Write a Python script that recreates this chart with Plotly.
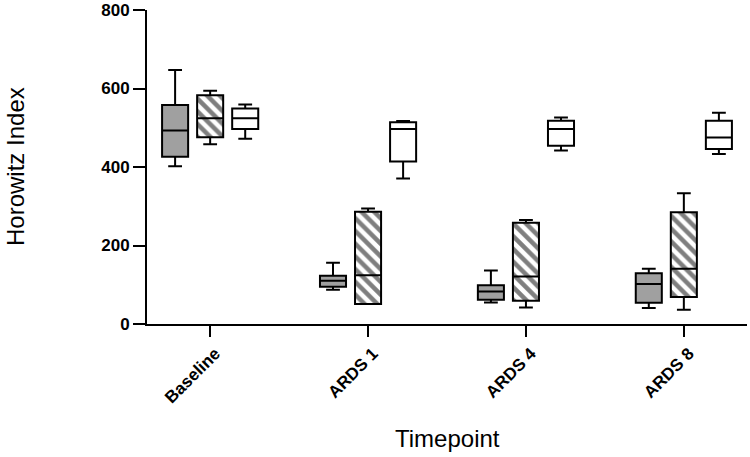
import plotly.graph_objects as go

categories = ["Baseline", "ARDS 1", "ARDS 4", "ARDS 8"]

# Group 1 (grey filled)
g1_low = [402, 87, 55, 41]
g1_q1 = [426, 95, 62, 54]
g1_med = [493, 110, 83, 102]
g1_q3 = [558, 123, 99, 129]
g1_high = [647, 156, 136, 141]

# Group 2 (hatched)
g2_low = [458, 51, 42, 36]
g2_q1 = [476, 51, 59, 69]
g2_med = [524, 124, 121, 141]
g2_q3 = [583, 286, 258, 285]
g2_high = [594, 294, 265, 333]

# Group 3 (white)
g3_low = [472, 371, 442, 433]
g3_q1 = [497, 414, 454, 446]
g3_med = [524, 497, 497, 475]
g3_q3 = [549, 514, 518, 518]
g3_high = [559, 517, 526, 538]

BOX_W = 0.165
OFFSET = 0.222
pos = list(range(len(categories)))

fig = go.Figure()

# hatched fill underneath group 2 boxes
fig.add_trace(go.Bar(
    x=[p for p in pos], base=g2_q1, y=[h - l for h, l in zip(g2_q3, g2_q1)],
    width=BOX_W, marker=dict(color="white", line=dict(width=0),
                             pattern=dict(shape="\\", fgcolor="black", bgcolor="white",
                                          size=9, solidity=0.5)),
    showlegend=False, hoverinfo="skip"))

def add_box(offset, low, q1, med, q3, high, fill):
    fig.add_trace(go.Box(
        x=[p + offset for p in pos], lowerfence=low, q1=q1, median=med, q3=q3,
        upperfence=high, width=BOX_W, whiskerwidth=0.53, fillcolor=fill,
        line=dict(color="black", width=2), showlegend=False, boxpoints=False))

add_box(-OFFSET, g1_low, g1_q1, g1_med, g1_q3, g1_high, "#a0a0a0")
add_box(0, g2_low, g2_q1, g2_med, g2_q3, g2_high, "rgba(0,0,0,0)")
add_box(OFFSET, g3_low, g3_q1, g3_med, g3_q3, g3_high, "white")

tickfont = dict(family="Liberation Sans Narrow, Liberation Sans, Arial", size=17, color="black", weight="bold")

fig.update_layout(
    width=750, height=457,
    margin=dict(l=147, r=3, t=10, b=133, autoexpand=False),
    paper_bgcolor="white", plot_bgcolor="white",
    showlegend=False, boxmode="overlay", barmode="overlay",
    xaxis=dict(range=[-0.4, 3.4], tickvals=pos, ticktext=categories, tickangle=-45,
               automargin=False, ticklabelshift=5,
               showline=True, linecolor="black", linewidth=2, ticks="outside",
               ticklen=11, tickwidth=2, tickcolor="black", showgrid=False, zeroline=False,
               tickfont=dict(family="Liberation Sans, Arial", size=17, color="black", weight="bold")),
    yaxis=dict(range=[0, 800], tickvals=[0, 200, 400, 600, 800], automargin=False,
               showline=True, linecolor="black", linewidth=2, ticks="outside",
               ticklen=12, tickwidth=2, tickcolor="black", showgrid=False, zeroline=False,
               tickfont=tickfont),
    annotations=[
        dict(text="Timepoint", xref="paper", yref="paper", x=0.5, y=-(438 - 324) / 314,
             showarrow=False, xanchor="center", yanchor="middle",
             font=dict(family="Liberation Sans, Arial", size=24, color="black")),
        dict(text="Horowitz Index", xref="paper", yref="paper", x=(15 - 147) / 600, y=0.5,
             showarrow=False, xanchor="center", yanchor="middle", textangle=-90,
             font=dict(family="Liberation Sans, Arial", size=24, color="black")),
    ],
)

fig.write_html("out.html", config={"displayModeBar": False},
               post_script="document.body.style.margin='0';document.body.style.overflow='hidden';")
